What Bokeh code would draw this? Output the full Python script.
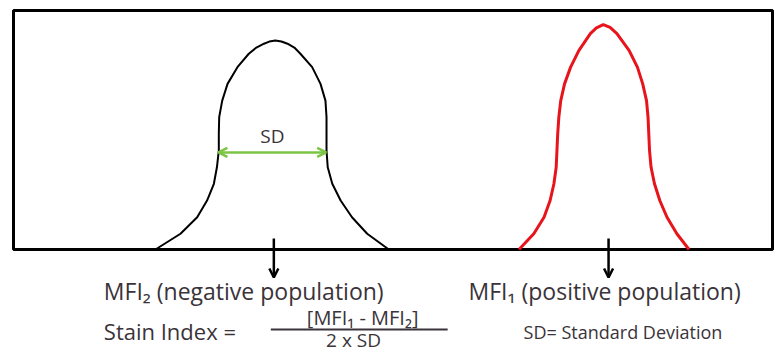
from bokeh.plotting import figure
from bokeh.models import Range1d, Label, Arrow, OpenHead
from bokeh.embed import file_html
from bokeh.resources import INLINE

# ---- data (fluorescence intensity, arbitrary units 0-100; cell count 0-100) ----
neg_x = [18.7, 22.0, 24.2, 25.5, 26.4, 26.8, 27.05, 27.05, 27.1, 27.5, 28.2, 29.5, 31.0, 32.0,
         33.0, 33.7, 34.5, 35.3, 36.1, 37.0, 37.8, 39.35, 40.45, 41.1, 41.24, 41.24, 41.24,
         41.4, 42.0, 43.1, 44.6, 46.6, 49.45]
neg_y = [0.0, 6.6, 13.5, 20.5, 27.5, 34.4, 41.4, 48.4, 55.4, 62.3, 69.3, 76.3, 81.9, 84.5,
         86.1, 87.0, 87.4, 87.0, 86.1, 84.5, 81.9, 76.3, 69.3, 62.3, 55.4, 48.4, 41.4,
         34.4, 27.5, 20.5, 13.5, 6.6, 0.0]

pos_x = [66.6, 68.55, 69.9, 70.7, 71.2, 71.5, 71.6, 71.7, 71.85, 72.1, 72.6, 73.4, 74.5, 76.0,
         76.8, 77.7, 78.6, 79.5, 81.1, 82.2, 82.9, 83.4, 83.6, 83.7, 83.8, 84.0, 84.45,
         85.15, 86.1, 87.4, 89.0]
pos_y = [0.0, 6.6, 13.5, 20.5, 27.5, 34.4, 41.4, 48.4, 55.4, 62.3, 69.3, 76.3, 83.3, 90.3,
         92.7, 94.1, 92.9, 90.3, 83.3, 76.3, 69.3, 62.3, 55.4, 48.4, 41.4, 34.4, 27.5,
         20.5, 13.5, 6.6, 0.0]

mfi_values = [34.3, 78.4]          # MFI2 (negative), MFI1 (positive)
sd_bounds = [27.0, 41.2]           # width marked as SD on the negative peak
sd_level = 40.6
axis_min, axis_max = 0, 100

labels_mfi = ["MFI\u2082 (negative population)", "MFI\u2081 (positive population)"]

FONT = "Open Sans"
TXT = "#3a3339"

p = figure(width=784, height=354, output_backend="svg", toolbar_location=None,
           x_range=Range1d(-1.713, 101.58), y_range=Range1d(-43.93, 104.18),
           min_border=0, min_border_left=0, min_border_right=0,
           min_border_top=0, min_border_bottom=0)
p.axis.visible = False
p.grid.visible = False
p.outline_line_color = None
p.background_fill_color = "white"
p.border_fill_color = "white"

# frame box
p.quad(left=axis_min, right=axis_max, bottom=axis_min, top=axis_max,
       fill_alpha=0, line_color="black", line_width=3)

# histograms
p.line(neg_x, neg_y, line_color="black", line_width=2)
p.line(pos_x, pos_y, line_color="#e8141c", line_width=3)

# SD double arrow
p.add_layout(Arrow(x_start=sd_bounds[0], y_start=sd_level, x_end=sd_bounds[1], y_end=sd_level,
                   line_color="#7cc444", line_width=2.5,
                   start=OpenHead(size=9, line_color="#7cc444", line_width=2.5),
                   end=OpenHead(size=9, line_color="#7cc444", line_width=2.5)))
p.add_layout(Label(x=(sd_bounds[0] + sd_bounds[1]) / 2, y=47.5, text="SD",
                   text_font=FONT, text_font_size="19px", text_color=TXT,
                   text_align="center", text_baseline="middle"))

# MFI arrows
for xm in mfi_values:
    p.add_layout(Arrow(x_start=xm, y_start=4.6, x_end=xm, y_end=-11.7,
                       line_color="black", line_width=2.5,
                       end=OpenHead(size=9, line_color="black", line_width=2.5)))

p.add_layout(Label(x=11.9, y=-17.5, text=labels_mfi[0], text_font=FONT,
                   text_font_size="23px", text_color=TXT,
                   text_align="left", text_baseline="middle"))
p.add_layout(Label(x=59.95, y=-17.5, text=labels_mfi[1], text_font=FONT,
                   text_font_size="23px", text_color=TXT,
                   text_align="left", text_baseline="middle"))

# Stain index formula
p.add_layout(Label(x=11.9, y=-34.3, text="Stain Index =", text_font=FONT,
                   text_font_size="22px", text_color=TXT,
                   text_align="left", text_baseline="middle"))
p.line([33.9, 57.2], [-33.5, -33.5], line_color=TXT, line_width=2)
p.add_layout(Label(x=46.0, y=-28.5, text="[MFI\u2081 - MFI\u2082]", text_font=FONT,
                   text_font_size="20px", text_color=TXT,
                   text_align="center", text_baseline="middle"))
p.add_layout(Label(x=44.8, y=-37.7, text="2 x SD", text_font=FONT,
                   text_font_size="19px", text_color=TXT,
                   text_align="center", text_baseline="middle"))
p.add_layout(Label(x=67.2, y=-34.7, text="SD= Standard Deviation", text_font=FONT,
                   text_font_size="18px", text_color=TXT,
                   text_align="left", text_baseline="middle"))

open("out.html", "w").write(file_html(p, INLINE))
